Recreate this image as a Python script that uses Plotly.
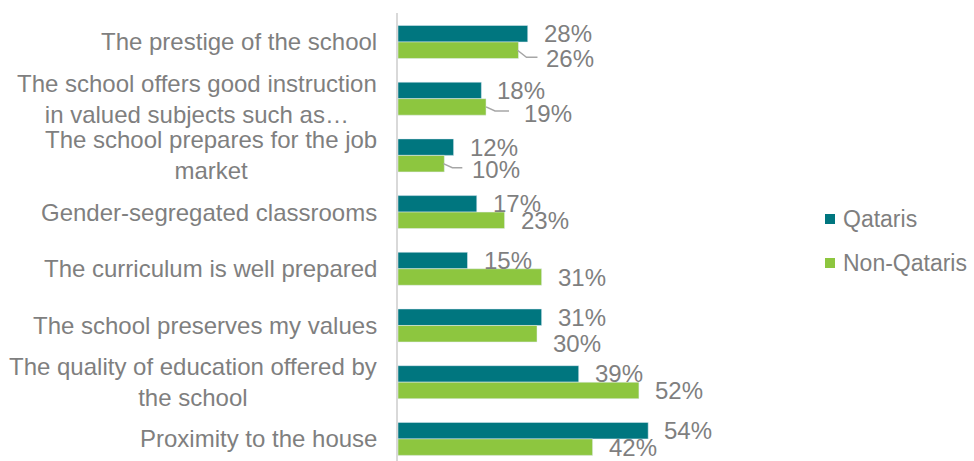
import plotly.graph_objects as go

# Reasons for choosing a school, share of respondents (%)
categories = [
    "The prestige of the school",
    "The school offers good instruction<br>in valued subjects such as…",
    "The school prepares for the job<br>market",
    "Gender-segregated classrooms",
    "The curriculum is well prepared",
    "The school preserves my values",
    "The quality of education offered by<br>the school",
    "Proximity to the house",
]
qataris = [28, 18, 12, 17, 15, 31, 39, 54]
non_qataris = [26, 19, 10, 23, 31, 30, 52, 42]
series_names = ["Qataris", "Non-Qataris"]

TEAL = "#00767F"
GREEN = "#8DC63F"
GREY_TEXT = "#7F7F7F"
LEADER = "#A6A6A6"
FONT = "Arial, Liberation Sans, sans-serif"
FS = 24

W, H = 974, 461
ML, MR, MT, MB = 398, 298, 13, 0
PW, PH = W - ML - MR, H - MT - MB

BARGAP = 0.418
half = (1 - BARGAP) / 4  # offset of each bar centre from its category centre

pos = list(range(len(categories)))

fig = go.Figure()
fig.add_trace(go.Bar(name=series_names[0], y=pos, x=qataris, orientation="h",
                     marker=dict(color=TEAL), showlegend=False))
fig.add_trace(go.Bar(name=series_names[1], y=pos, x=non_qataris, orientation="h",
                     marker=dict(color=GREEN), showlegend=False))

annotations = []
shapes = []

# category labels, right aligned next to the axis, multi-line centred
for p, cat in zip(pos, categories):
    annotations.append(dict(
        x=0, xref="paper", y=p, yref="y", text=cat, showarrow=False,
        xanchor="right", yanchor="middle", align="center", xshift=-19,
        font=dict(family=FONT, size=FS, color=GREY_TEXT)))

# labels that were pulled away from their bar: (dx, dy) in pixels, plus leader path
moved = {
    0: ((28, 8), "M -1,0 L 8,-7 L 19,-7"),
    1: ((38, 7), "M 0,0 L 9,-4 L 23,-4"),
    2: ((28, 6), "M -1,0 L 8,-4 L 18,-4"),
    5: ((16, 10), None),
}

for p, q, n in zip(pos, qataris, non_qataris):
    annotations.append(dict(
        x=q, y=p - half, xref="x", yref="y", text=f"{q}%", showarrow=False,
        xanchor="left", yanchor="middle", xshift=14,
        font=dict(family=FONT, size=FS, color=GREY_TEXT)))
    dx, dy = 14, 0
    if p in moved:
        (dx, dy), path = moved[p]
        dx -= 2
        if path:
            shapes.append(dict(
                type="path", xref="x", yref="y", xsizemode="pixel",
                ysizemode="pixel", xanchor=n, yanchor=p + half, path=path,
                line=dict(color=LEADER, width=1.5)))
    annotations.append(dict(
        x=n, y=p + half, xref="x", yref="y", text=f"{n}%", showarrow=False,
        xanchor="left", yanchor="middle", xshift=dx, yshift=-dy,
        font=dict(family=FONT, size=FS, color=GREY_TEXT)))

# legend: small colour squares with series names to the right of the plot
legend_x = (825 - ML) / PW
for i, (name, col) in enumerate(zip(series_names, [TEAL, GREEN])):
    ly = (H - (219 + 44 * i)) / PH
    shapes.append(dict(
        type="rect", xref="paper", yref="paper", xsizemode="pixel",
        ysizemode="pixel", xanchor=legend_x, yanchor=ly,
        x0=0, x1=10, y0=-5, y1=5, fillcolor=col, line=dict(width=0)))
    annotations.append(dict(
        x=legend_x, y=ly, xref="paper", yref="paper", text=name,
        showarrow=False, xanchor="left", yanchor="middle", xshift=16,
        font=dict(family=FONT, size=FS - 1, color=GREY_TEXT)))

fig.update_layout(
    width=W, height=H,
    margin=dict(l=ML, r=MR, t=MT, b=MB),
    paper_bgcolor="white", plot_bgcolor="white",
    barmode="group", bargap=BARGAP, bargroupgap=0,
    font=dict(family=FONT, size=FS, color=GREY_TEXT),
    showlegend=False,
    xaxis=dict(range=[0, 60], visible=False, fixedrange=True),
    yaxis=dict(range=[7.39, -0.511], showticklabels=False, showgrid=False,
               zeroline=False, showline=True, linecolor="#D9D9D9",
               linewidth=2, ticks="", fixedrange=True),
    annotations=annotations,
    shapes=shapes,
)

fig.write_html("out.html")
